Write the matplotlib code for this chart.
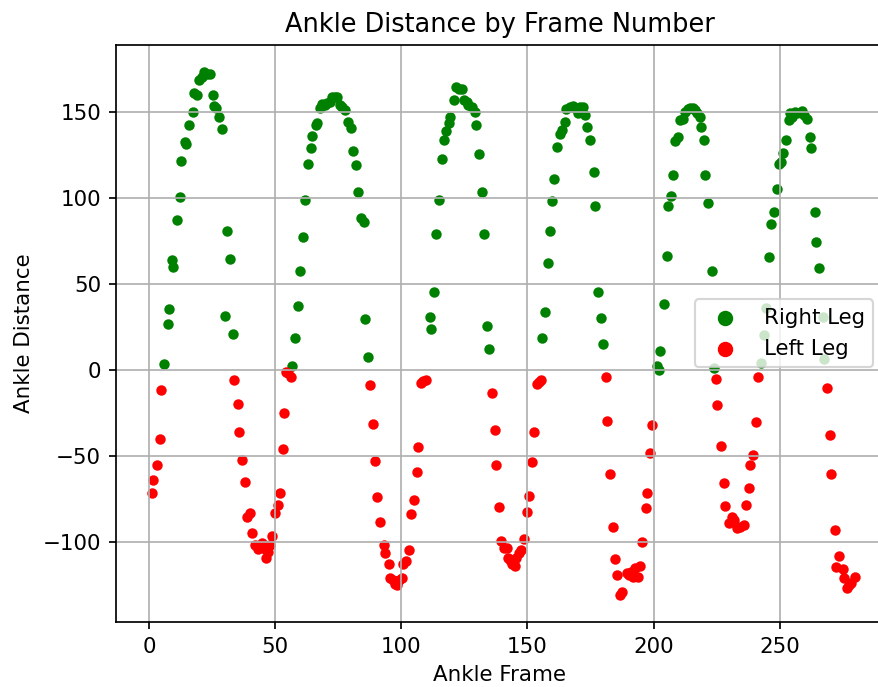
import matplotlib
matplotlib.use("Agg")
import matplotlib.pyplot as plt

# right leg (green) - frame, distance
right_x = [5.9, 7.3, 7.8, 9.0, 9.6, 11.0, 12.1, 12.7, 14.1, 14.7, 15.9, 17.2, 17.6, 18.9, 19.9, 21.0, 21.9, 22.9, 23.9,
           25.2, 25.7, 26.6, 27.5, 28.8, 30.0, 30.7, 32.0, 33.2,
           56.6, 57.9, 59.1, 59.6, 60.8, 61.7, 62.9, 64.0, 64.5, 66.0, 66.5, 67.6, 68.6, 69.6, 70.5, 71.6, 72.6, 73.5,
           74.5, 75.5, 76.6, 77.5, 78.8, 80.1, 80.8, 82.0, 82.7, 84.0, 85.2, 85.7, 86.9,
           111.3, 111.8, 113.1, 113.8, 114.8, 116.2, 116.8, 117.7, 118.7, 119.3, 121.0, 121.7, 122.9, 124.1, 124.9,
           125.9, 126.6, 127.9, 129.0, 129.6, 130.9, 132.1, 132.8, 133.9, 134.6,
           155.7, 157.0, 158.2, 158.8, 159.9, 160.6, 161.9, 162.9, 163.6, 165.0, 165.3, 166.7, 168.0, 169.0, 169.9,
           170.9, 171.9, 172.9, 173.8, 174.9, 176.2, 176.9, 177.9, 179.1, 179.9,
           201.4, 202.0, 202.7, 204.0, 205.3, 205.7, 207.0, 207.6, 208.6, 209.9, 210.6, 211.6, 212.6, 213.5, 214.6,
           215.6, 216.5, 217.2, 218.3, 218.8, 220.1, 220.6, 221.8, 223.2, 223.8,
           242.7, 244.0, 244.7, 245.9, 246.6, 247.6, 249.1, 249.7, 250.5, 251.3, 252.6, 253.8, 254.2, 255.1, 256.2,
           257.1, 258.9, 259.8, 260.9, 261.9, 262.6, 263.9, 264.6, 265.8, 267.2, 267.5]
right_y = [3.3, 26.6, 35.7, 64, 60, 87.2, 100.8, 121.7, 132.6, 131.4, 142.4, 150, 160.9, 159.7, 168.6, 170.5, 173.4, 172.4, 172.4,
           159.9, 153.7, 152.1, 146.9, 139.9, 31.2, 81, 64.5, 21.1,
           2.3, 18.4, 37.4, 57.6, 77.1, 98.8, 119.8, 128.9, 136, 142.4, 143.4, 152.1, 154.7, 154, 155, 156, 158.5, 159,
           158.5, 154, 153, 151, 144.4, 140.5, 127.3, 119, 103.5, 88.2, 86.3, 29.5, 7.8,
           31, 23.8, 45.5, 79.1, 98.8, 122.7, 133.7, 139.1, 143.4, 146.9, 157, 164.7, 163.7, 163.2, 157,
           156, 154, 153, 150.2, 142.4, 125.4, 103.7, 79.1, 25.6, 12,
           18.4, 33.9, 62, 80.8, 98.3, 110.9, 129.8, 137, 139.5, 144.4, 151.6, 153, 153.4, 152.1, 149.5,
           153, 153, 148.5, 141.5, 133.7, 115.3, 95.5, 45.5, 30.4, 14.9,
           2.3, 0.2, 11.2, 38.2, 66.3, 95.3, 101.2, 113.4, 133.3, 135.6, 145.3, 145.7, 150.2, 151.6, 152.1,
           152.5, 151.2, 149.3, 146.9, 141.5, 133.7, 113.4, 97.3, 57.6, 1.0,
           3.9, 20.3, 35.9, 65.5, 84.7, 91.7, 105.4, 119.8, 121.1, 126.4, 133.7, 145.3, 149.3, 147.3, 150.2,
           149.5, 150.8, 148.3, 146, 135.3, 128.9, 91.7, 74.6, 59.1, 31, 6.4]

# left leg (red)
left_x = [1.0, 1.6, 2.9, 4.1, 4.8,
          33.7, 35.0, 35.7, 36.9, 38.1, 38.7, 40.1, 40.6, 41.8, 43.1, 44.8, 45.9, 46.2, 47.1, 48.0, 48.5, 49.8,
          51.2, 51.8, 52.9, 53.6, 54.4, 55.2, 56.1,
          87.5, 88.7, 89.7, 90.5, 91.4, 93.0, 93.6, 95.0, 95.6, 96.7, 97.6, 98.3, 99.1, 100.1, 100.6, 102.0,
          103.0, 103.7, 104.9, 106.2, 106.7, 107.9, 108.6, 109.6,
          135.8, 137.0, 137.6, 138.9, 139.7, 140.6, 141.7, 142.2, 143.2, 144.0, 145.0, 145.6, 146.7, 147.6,
          148.5, 150.0, 150.6, 151.8, 152.5, 153.6, 154.5, 155.2,
          181.0, 181.6, 182.8, 184.0, 184.6, 185.7, 186.6, 187.5, 189.3, 190.3, 191.2, 191.9, 192.6, 193.9,
          194.5, 195.6, 197.0, 197.6, 198.8, 199.3,
          224.7, 225.2, 226.6, 227.8, 228.5, 229.8, 231.1, 231.9, 233.2, 234.2, 235.8, 236.5, 237.8, 238.4,
          239.5, 240.7, 241.5,
          268.7, 269.9, 270.5, 271.8, 272.4, 273.5, 275.0, 275.5, 276.6, 277.6, 278.5, 279.9]
left_y = [-71.3, -64, -55, -40.3, -11.4,
          -6, -19.6, -35.9, -52.1, -64.9, -85.6, -83, -94.8, -101.9, -103.9, -100.4, -103.9, -109.1, -105.6, -101.9, -96.5, -83,
          -78.5, -71.3, -45.9, -25, -1, -2, -4.3,
          -8.7, -31.4, -53.1, -74, -88.6, -101.9, -106.6, -112.8, -121.1, -122, -124.4, -125, -122, -121, -112.8, -111,
          -104.7, -83.9, -75.8, -59.5, -45, -7.8, -6.2, -5.8,
          -13.2, -35.1, -55, -79.5, -99.4, -103.7, -103.7, -109.5, -110.5, -112.8, -114, -109.5, -106.6, -104.7,
          -98.4, -82.4, -73.1, -53.3, -36, -8.1, -6.8, -5.8,
          -4.3, -29.7, -60.5, -91.1, -110, -119.2, -130.8, -129.3, -118.2, -119.2, -117.3, -120.5, -115.3, -120.2,
          -114, -100.2, -80.2, -71.3, -48.4, -32.2,
          -5.2, -20.3, -44.2, -65.9, -79.3, -89.1, -85.6, -87, -92, -91.1, -90.2, -78.5, -68.4, -55,
          -49.4, -30.4, -4.3,
          -10.6, -37.8, -60.5, -93, -114.7, -108.1, -115.9, -121.1, -126.6, -125, -124, -120.2]

DPI = 154
fig = plt.figure(figsize=(878 / DPI, 687 / DPI), dpi=DPI)
ax = fig.add_axes([0.1321, 0.0951, 0.8747, 0.8394])

ax.scatter(right_x, right_y, s=15, color='green', label='Right Leg')
ax.scatter(left_x, left_y, s=15, color='red', label='Left Leg')

ax.set_xlim(-13.2, 291.4)
ax.set_ylim(-146.3, 189)
ax.grid(True)
ax.set_title('Ankle Distance by Frame Number')
ax.set_xlabel('Ankle Frame')
ax.set_ylabel('Ankle Distance')
ax.legend(loc='center right', markerscale=1.6)

fig.savefig('out.png', dpi=DPI)
